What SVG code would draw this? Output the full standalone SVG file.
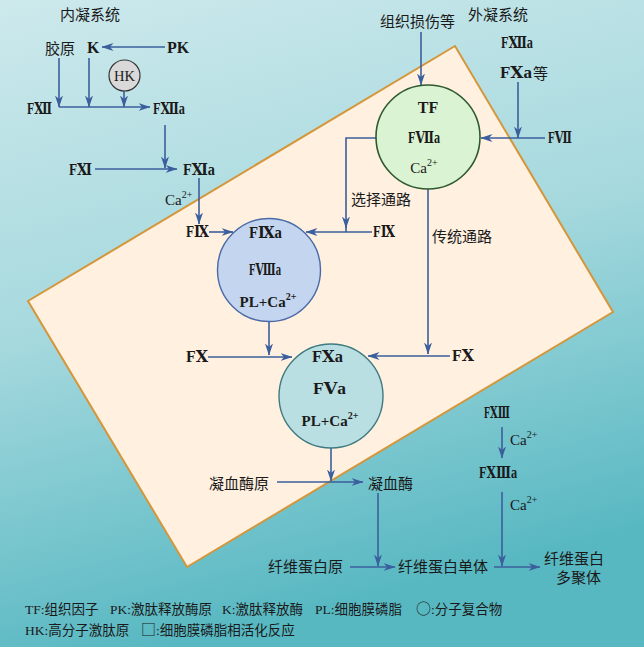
<svg xmlns="http://www.w3.org/2000/svg" width="644" height="647" viewBox="0 0 644 647">
<style>
.cn{font-family:"Noto Sans CJK SC","Noto Sans CJK JP",sans-serif;font-size:15px;fill:#1a1a1a;}
.f{font-family:"Liberation Serif","DejaVu Serif","Noto Sans CJK SC",serif;font-size:16px;font-weight:bold;fill:#1a1a1a;}
.ca{font-family:"Liberation Serif","DejaVu Serif",serif;font-size:15px;fill:#1a1a1a;}
.sup{font-size:10px;}
.lg{font-family:"Liberation Serif","Noto Sans CJK SC",serif;font-size:13.5px;fill:#1a1a1a;}
.sym{font-family:"Noto Sans CJK SC",sans-serif;font-size:15px;}
.c{stroke:#3b5f9c;stroke-width:1.6;fill:none;}
.a{marker-end:url(#arr);}
</style>
<defs>
<linearGradient id="bg" x1="0" y1="0" x2="0.25" y2="1">
<stop offset="0" stop-color="#cde9ec"/>
<stop offset="0.5" stop-color="#a6d9de"/>
<stop offset="1" stop-color="#58b8c2"/>
</linearGradient>
<marker id="arr" viewBox="0 0 12 8" refX="11.5" refY="4" markerWidth="12" markerHeight="8" markerUnits="userSpaceOnUse" orient="auto">
<path d="M0,0 L12,4 L0,8 L3.5,4 z" fill="#3b5f9c"/>
</marker>
</defs>
<rect x="0" y="0" width="644" height="647" fill="url(#bg)"/>
<polygon id="membrane" points="28,301 455,46 613,312 187,567" fill="#fff0e0" stroke="#d4963a" stroke-width="2"/>

<g id="connectors">
<line class="c a" x1="165" y1="47" x2="102" y2="47"/>
<line class="c a" x1="59" y1="58" x2="59" y2="107"/>
<line class="c a" x1="89" y1="58" x2="89" y2="107"/>
<line class="c a" x1="124" y1="91" x2="124" y2="107"/>
<line class="c a" x1="59" y1="107" x2="150" y2="107"/>
<line class="c a" x1="165" y1="125" x2="165" y2="168"/>
<line class="c a" x1="95" y1="169" x2="177" y2="169"/>
<line class="c a" x1="199" y1="178" x2="199" y2="224"/>
<line class="c a" x1="209" y1="232" x2="233" y2="232"/>
<path class="c a" d="M376,138 H346 V228"/>
<line class="c" x1="346" y1="226" x2="346" y2="232"/>
<line class="c a" x1="372" y1="232" x2="306" y2="232"/>
<line class="c a" x1="269" y1="322" x2="269" y2="355"/>
<line class="c a" x1="208" y1="357" x2="292" y2="357"/>
<line class="c a" x1="428" y1="189" x2="428" y2="354"/>
<line class="c a" x1="450" y1="356" x2="368" y2="356"/>
<line class="c a" x1="331" y1="448" x2="331" y2="481"/>
<line class="c a" x1="277" y1="482" x2="363" y2="482"/>
<line class="c a" x1="378" y1="493" x2="378" y2="566"/>
<line class="c a" x1="350" y1="567" x2="395" y2="567"/>
<line class="c a" x1="421" y1="32" x2="421" y2="85"/>
<line class="c a" x1="518" y1="82" x2="518" y2="138"/>
<line class="c a" x1="545" y1="138" x2="481" y2="138"/>
<line class="c a" x1="502" y1="427" x2="502" y2="458"/>
<line class="c a" x1="502" y1="492" x2="502" y2="566"/>
<line class="c a" x1="494" y1="567" x2="540" y2="567"/>
</g>

<g id="titles">
<text class="cn" x="60" y="20">内凝系统</text>
<text class="cn" x="468" y="20">外凝系统</text>
</g>

<g id="intrinsic">
<text class="cn" x="45" y="54">胶原</text>
<text class="f" x="87" y="53">K</text>
<text class="f" x="167" y="53">PK</text>
<g id="HK">
<circle cx="124.5" cy="75.5" r="15.5" fill="#d9d9d9" stroke="#333" stroke-width="1.2"/>
<text x="124.5" y="80.5" text-anchor="middle" style="font-family:'Liberation Serif',serif;font-size:14.5px;fill:#1a1a1a">HK</text>
</g>
<text class="f" x="27" y="114" textLength="25" lengthAdjust="spacingAndGlyphs">FⅫ</text>
<text class="f" x="153" y="114" textLength="32" lengthAdjust="spacingAndGlyphs">FⅫa</text>
<text class="f" x="69" y="175" textLength="23" lengthAdjust="spacingAndGlyphs">FⅪ</text>
<text class="f" x="183" y="175" textLength="32" lengthAdjust="spacingAndGlyphs">FⅪa</text>
<text class="ca" x="165" y="205">Ca<tspan class="sup" dy="-7">2+</tspan></text>
<text class="f" x="186" y="237" textLength="23" lengthAdjust="spacingAndGlyphs">FⅨ</text>
</g>

<g id="extrinsic">
<text class="cn" x="380" y="27">组织损伤等</text>
<text class="f" x="501" y="48" textLength="32" lengthAdjust="spacingAndGlyphs">FⅫa</text>
<text class="f" x="500" y="78" textLength="32" lengthAdjust="spacingAndGlyphs">FⅩa</text>
<text class="cn" x="533" y="79">等</text>
<text class="f" x="548" y="143" textLength="24" lengthAdjust="spacingAndGlyphs">FⅦ</text>
</g>

<g id="TF-complex">
<circle cx="428" cy="137" r="52" fill="#daf3d2" stroke="#2e5a2e" stroke-width="1.6"/>
<text class="f" x="428" y="113" text-anchor="middle">TF</text>
<text class="f" x="408" y="143" textLength="32" lengthAdjust="spacingAndGlyphs">FⅦa</text>
<text class="ca" x="424" y="173" text-anchor="middle">Ca<tspan class="sup" dy="-7">2+</tspan></text>
</g>

<g id="tenase">
<circle cx="269" cy="270" r="51.5" fill="#c3d5ef" stroke="#4a6aa8" stroke-width="1.4"/>
<text class="f" x="249" y="238" textLength="33" lengthAdjust="spacingAndGlyphs">FⅨa</text>
<text class="f" x="249" y="275" textLength="32" lengthAdjust="spacingAndGlyphs">FⅧa</text>
<text class="f" x="268" y="307" text-anchor="middle" style="font-size:15px">PL+Ca<tspan class="sup" dy="-7">2+</tspan></text>
</g>

<g id="pathways">
<text class="cn" x="351" y="205">选择通路</text>
<text class="cn" x="432" y="242">传统通路</text>
<text class="f" x="373" y="237" textLength="22" lengthAdjust="spacingAndGlyphs">FⅨ</text>
<text class="f" x="186" y="362" textLength="22" lengthAdjust="spacingAndGlyphs">FⅩ</text>
<text class="f" x="452" y="361" textLength="22" lengthAdjust="spacingAndGlyphs">FⅩ</text>
</g>

<g id="prothrombinase">
<circle cx="331" cy="396" r="52" fill="#badfe3" stroke="#3f7a80" stroke-width="1.4"/>
<text class="f" x="312" y="362" textLength="31" lengthAdjust="spacingAndGlyphs">FⅩa</text>
<text class="f" x="313" y="394" textLength="33" lengthAdjust="spacingAndGlyphs">FⅤa</text>
<text class="f" x="330" y="426" text-anchor="middle" style="font-size:15px">PL+Ca<tspan class="sup" dy="-7">2+</tspan></text>
</g>

<g id="thrombin">
<text class="cn" x="209" y="489">凝血酶原</text>
<text class="cn" x="368" y="489">凝血酶</text>
</g>

<g id="fibrin">
<text class="cn" x="268" y="572">纤维蛋白原</text>
<text class="cn" x="398" y="572">纤维蛋白单体</text>
<text class="cn" x="544" y="564">纤维蛋白</text>
<text class="cn" x="556" y="583">多聚体</text>
<text class="f" x="484" y="418" textLength="26" lengthAdjust="spacingAndGlyphs">FⅩⅢ</text>
<text class="ca" x="510" y="445">Ca<tspan class="sup" dy="-7">2+</tspan></text>
<text class="f" x="479" y="478" textLength="38" lengthAdjust="spacingAndGlyphs">FⅩⅢa</text>
<text class="ca" x="510" y="510">Ca<tspan class="sup" dy="-7">2+</tspan></text>
</g>

<g id="legend">
<text class="lg" x="25" y="614">TF:组织因子</text>
<text class="lg" x="110" y="614">PK:激肽释放酶原</text>
<text class="lg" x="222" y="614">K:激肽释放酶</text>
<text class="lg" x="315" y="614">PL:细胞膜磷脂</text>
<text class="lg" x="416" y="614"><tspan class="sym">○</tspan>:分子复合物</text>
<text class="lg" x="25" y="635">HK:高分子激肽原</text>
<text class="lg" x="141" y="635"><tspan class="sym">□</tspan>:细胞膜磷脂相活化反应</text>
</g>
</svg>
